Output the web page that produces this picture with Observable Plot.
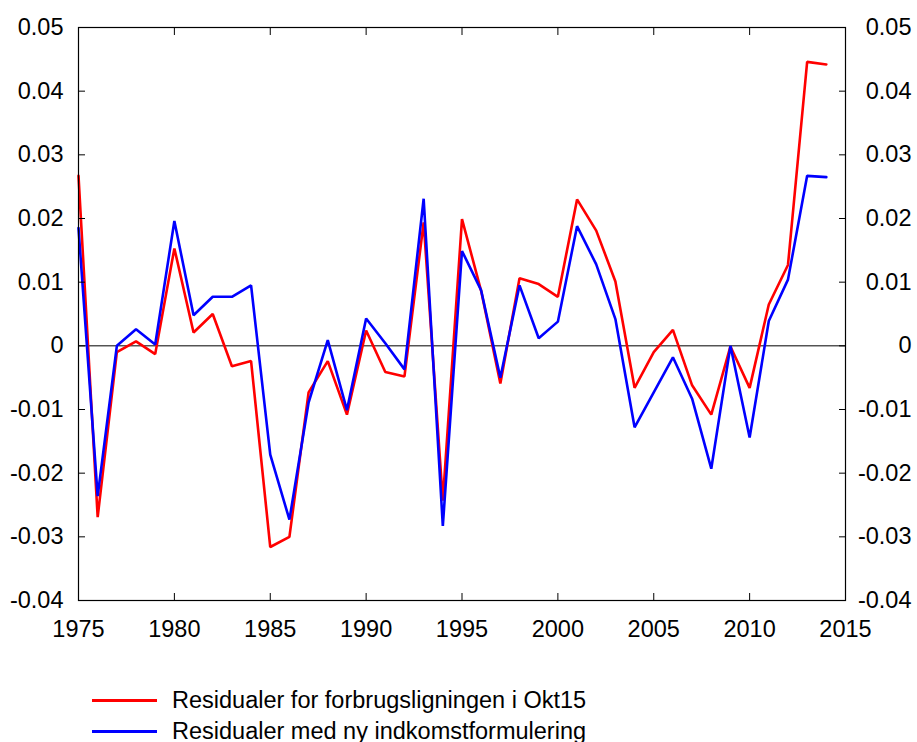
<!DOCTYPE html>
<html>
<head>
<meta charset="utf-8">
<script src="https://cdn.jsdelivr.net/npm/d3@7"></script>
<script src="https://cdn.jsdelivr.net/npm/@observablehq/plot@0.6"></script>
<style>
  html, body { margin: 0; padding: 0; background: #fff; }
  #wrap { position: relative; width: 917px; height: 742px; font-family: "Liberation Sans", Arial, Helvetica, sans-serif; }
  #legend { position: absolute; left: 92px; top: 685px; font-size: 23.5px; color: #000; }
  .row { display: flex; align-items: center; height: 31px; }
  .swatch { width: 65px; height: 3px; margin-right: 15px; }
</style>
</head>
<body>
<div id="wrap"><div id="chart"></div><div id="legend"></div></div>
<script>
const years = d3.range(1975, 2015);
const seriesNames = ["Residualer for forbrugsligningen i Okt15", "Residualer med ny indkomstformulering"];
const seriesColors = ["#ff0000", "#0000ff"];
const okt15 = [0.0267, -0.0269, -0.0010, 0.0007, -0.0013, 0.0153, 0.0021, 0.0050, -0.0032, -0.0024,
  -0.0316, -0.0300, -0.0073, -0.0024, -0.0108, 0.0024, -0.0041, -0.0048, 0.0194, -0.0243,
  0.0199, 0.0086, -0.0059, 0.0106, 0.0097, 0.0077, 0.0230, 0.0181, 0.0101, -0.0066,
  -0.0010, 0.0025, -0.0062, -0.0108, -0.0001, -0.0066, 0.0065, 0.0127, 0.0446, 0.0442];
const nyIndkomst = [0.0185, -0.0236, 0.0000, 0.0026, 0.0002, 0.0196, 0.0048, 0.0077, 0.0077, 0.0095,
  -0.0171, -0.0273, -0.0089, 0.0009, -0.0101, 0.0043, 0.0004, -0.0037, 0.0231, -0.0283,
  0.0149, 0.0087, -0.0050, 0.0095, 0.0012, 0.0038, 0.0188, 0.0128, 0.0042, -0.0128,
  -0.0073, -0.0018, -0.0083, -0.0193, 0.0000, -0.0144, 0.0039, 0.0104, 0.0267, 0.0265];
const xTicks = [1975, 1980, 1985, 1990, 1995, 2000, 2005, 2010, 2015];
const yTicks = [-0.04, -0.03, -0.02, -0.01, 0, 0.01, 0.02, 0.03, 0.04, 0.05];

const rows = [];
years.forEach((yr, i) => {
  rows.push({year: yr, value: okt15[i], series: seriesNames[0]});
});
years.forEach((yr, i) => {
  rows.push({year: yr, value: nyIndkomst[i], series: seriesNames[1]});
});

const yFmt = d => d === 0 ? "0" : d.toFixed(2);

const chart = Plot.plot({
  width: 917,
  height: 660,
  marginLeft: 78,
  marginRight: 72,
  marginTop: 27,
  marginBottom: 60,
  style: {fontFamily: '"Liberation Sans", Arial, Helvetica, sans-serif', fontSize: "23.5px", color: "#000", background: "#fff"},
  x: {domain: [1975, 2015]},
  y: {domain: [-0.04, 0.05]},
  color: {domain: seriesNames, range: seriesColors},
  marks: [
    Plot.ruleY([0], {stroke: "#000", strokeWidth: 1}),
    Plot.line(rows, {x: "year", y: "value", z: "series", stroke: "series", strokeWidth: 2.6, strokeLinejoin: "miter"}),
    Plot.frame({stroke: "#000", strokeWidth: 1.2}),
    Plot.axisX({anchor: "bottom", ticks: xTicks, tickFormat: d => String(d), tickSize: -7, tickPadding: 27, label: null}),
    Plot.axisX({anchor: "top", ticks: xTicks, tickFormat: () => "", tickSize: -7, label: null}),
    Plot.axisY({anchor: "left", ticks: yTicks, tickFormat: yFmt, tickSize: -7, tickPadding: 22, label: null}),
    Plot.axisY({anchor: "right", ticks: yTicks, tickFormat: yFmt, tickSize: -7, tickPadding: 73, textAnchor: "end", label: null})
  ]
});
document.getElementById("chart").appendChild(chart);

const legend = document.getElementById("legend");
seriesNames.forEach((name, i) => {
  const row = document.createElement("div");
  row.className = "row";
  const sw = document.createElement("div");
  sw.className = "swatch";
  sw.style.background = seriesColors[i];
  const t = document.createElement("span");
  t.textContent = name;
  row.appendChild(sw);
  row.appendChild(t);
  legend.appendChild(row);
});
</script>
</body>
</html>
